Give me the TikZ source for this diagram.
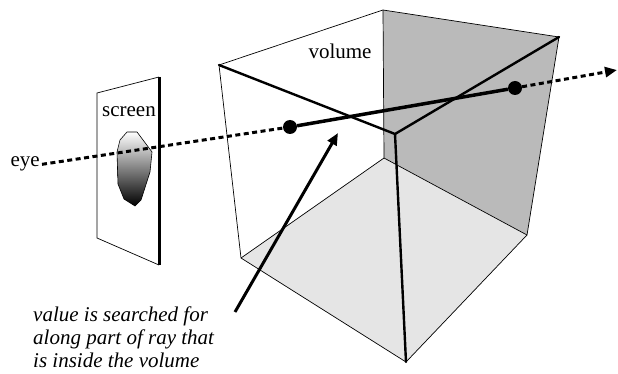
\documentclass[tikz,border=0pt]{standalone}
\usepackage{fontspec}
\setmainfont{Liberation Serif}
\usetikzlibrary{arrows.meta, positioning}

\begin{document}
\begin{tikzpicture}[
  x=1pt, y=-1pt,
  thinedge/.style={line width=0.7pt},
  frontedge/.style={line width=2.4pt, line cap=round, line join=round},
  ray/.style={line width=3pt, dash pattern=on 5pt off 3.5pt},
  hit/.style={circle, fill=black, inner sep=0pt, minimum size=14pt},
  lbl/.style={font=\fontsize{21}{24}\selectfont, inner sep=0pt},
  note/.style={font=\fontsize{21}{22.6}\selectfont\itshape, align=left, inner sep=0pt},
  a/.style={-{Triangle[length=12pt,width=10pt]}, line width=3pt}
]
\useasboundingbox (0,0) rectangle (618,374);
% cube corners
\coordinate (tl) at (219,65);
\coordinate (tk) at (383,10);
\coordinate (tr) at (559,37);
\coordinate (fc) at (395,134);
\coordinate (bk) at (384,158);
\coordinate (bl) at (241,258);
\coordinate (bf) at (406,362);
\coordinate (br) at (527,235);
\fill[black!27] (tk) -- (tr) -- (br) -- (bk) -- cycle;
\fill[black!10] (bk) -- (bl) -- (bf) -- (br) -- cycle;
\draw[thinedge] (tl) -- (tk) -- (tr) -- (br) -- (bf) -- (bl) -- cycle;
\draw[thinedge] (tk) -- (bk) (bl) -- (bk) -- (br);
\draw[frontedge] (tl) -- (fc) -- (tr) (fc) -- (bf);
\node[lbl] (vol) at (340,51) {volume};

% screen
\coordinate (stl) at (97,93);
\coordinate (str) at (159,77);
\coordinate (sbr) at (159,265);
\coordinate (sbl) at (97,238);
\fill[white] (stl) -- (str) -- (sbr) -- (sbl) -- cycle;
\draw[thinedge] (str) -- (stl) -- (sbl) -- (sbr);
\draw[line width=3pt] (str) -- (sbr);
\shade[top color=white, middle color=black!40, bottom color=black, draw=black, line width=0.6pt]
  (127,132) -- (137,132) -- (152,152) -- (150,172) -- (141,200) -- (135,206)
  -- (124,199) -- (118,184) -- (117,152) -- (120,140) -- cycle;
\node[lbl] (scr) at (129,112) {screen};

% ray
\node[lbl, inner sep=2pt, anchor=base east] (eye) at (42,167) {eye};
\node[hit] (entry) at (290,127) {};
\node[hit] (exit) at (515,88) {};
\coordinate (far) at (617,70);
\draw[ray] (eye.east) -- (entry);
\draw[line width=3.5pt] (entry) -- (exit);
\draw[ray, -{Triangle[length=12pt,width=10pt]}] (exit) -- (far);

% annotation
\node[note, anchor=north west] (txt) at (33,307) {value is searched for\\along part of ray that\\is inside the volume};
\coordinate (tip) at (338,133);
\coordinate (tail) at (235,312);
\draw[a] (tail) -- (tip);
\end{tikzpicture}
\end{document}
